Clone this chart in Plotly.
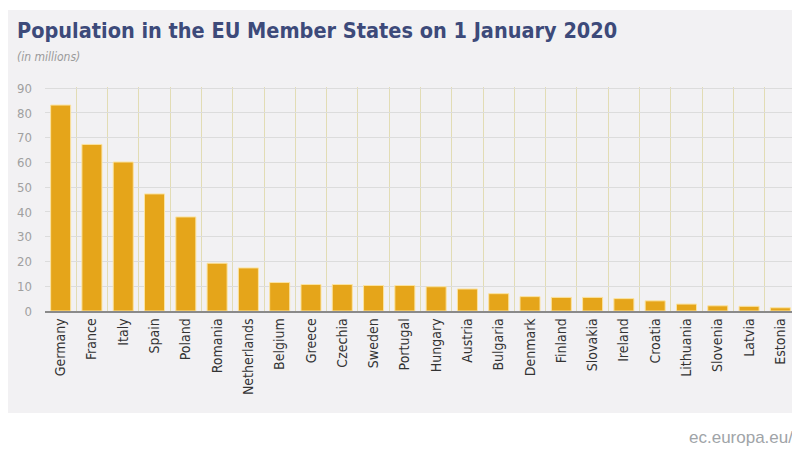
import plotly.graph_objects as go

countries = ["Germany", "France", "Italy", "Spain", "Poland", "Romania", "Netherlands",
             "Belgium", "Greece", "Czechia", "Sweden", "Portugal", "Hungary", "Austria",
             "Bulgaria", "Denmark", "Finland", "Slovakia", "Ireland", "Croatia",
             "Lithuania", "Slovenia", "Latvia", "Estonia"]
population = [83.2, 67.3, 60.2, 47.3, 38.0, 19.3, 17.4, 11.5, 10.7, 10.7, 10.3, 10.3,
              9.8, 8.9, 7.0, 5.8, 5.5, 5.5, 5.0, 4.1, 2.8, 2.1, 1.9, 1.3]
y_ticks = [0, 10, 20, 30, 40, 50, 60, 70, 80, 90]

cond = "DejaVu Sans Condensed"
bg = "#f2f1f3"

fig = go.Figure(go.Bar(
    x=countries, y=population,
    marker=dict(color="#e5a51a", line=dict(color="#fbe3a0", width=1)),
))

# page has an 8px body margin, so the figure is a bit smaller than the window
fig.update_layout(
    width=792, height=442,
    margin=dict(l=37, r=4, t=79, b=139),
    paper_bgcolor="white",
    plot_bgcolor=bg,
    bargap=0.36,
    showlegend=False,
    font=dict(family=cond),
    shapes=[dict(type="rect", xref="paper", yref="paper", layer="below",
                 x0=-0.06, x1=1.01, y0=-0.455, y1=1.344,
                 fillcolor=bg, line=dict(width=0))],
    annotations=[
        dict(text="<b>Population in the EU Member States on 1 January 2020</b>",
             xref="paper", yref="paper", x=-0.04, y=1.254, xanchor="left", yanchor="middle",
             showarrow=False, font=dict(size=21.5, color="#3d4a7a", family=cond)),
        dict(text="<i>(in millions)</i>",
             xref="paper", yref="paper", x=-0.04, y=1.134, xanchor="left", yanchor="middle",
             showarrow=False, font=dict(size=12, color="#9a9a9a", family=cond)),
        dict(text="ec.europa.eu/",
             xref="paper", yref="paper", x=0.999, y=-0.5625, xanchor="right", yanchor="middle",
             showarrow=False, font=dict(size=17, color="#a0a4a8", family="Liberation Sans, Arial, sans-serif")),
    ],
)

fig.update_xaxes(
    type="category", tickson="boundaries", tickangle=-90,
    showgrid=True, gridcolor="#e2dcb4", gridwidth=1,
    ticks="", tickfont=dict(size=14, color="#333333", family=cond),
    range=[-0.5, len(countries) - 0.5],
    showline=True, linecolor="#8a8a8a", linewidth=1.5,
)
fig.update_yaxes(
    range=[0, 90.5], tickvals=y_ticks,
    showgrid=True, gridcolor="#dcdcdc", gridwidth=1,
    tickfont=dict(size=13, color="#a0a0a0", family=cond), ticklabelstandoff=12,
    zeroline=False, showline=False,
)

fig.write_html("out.html")
